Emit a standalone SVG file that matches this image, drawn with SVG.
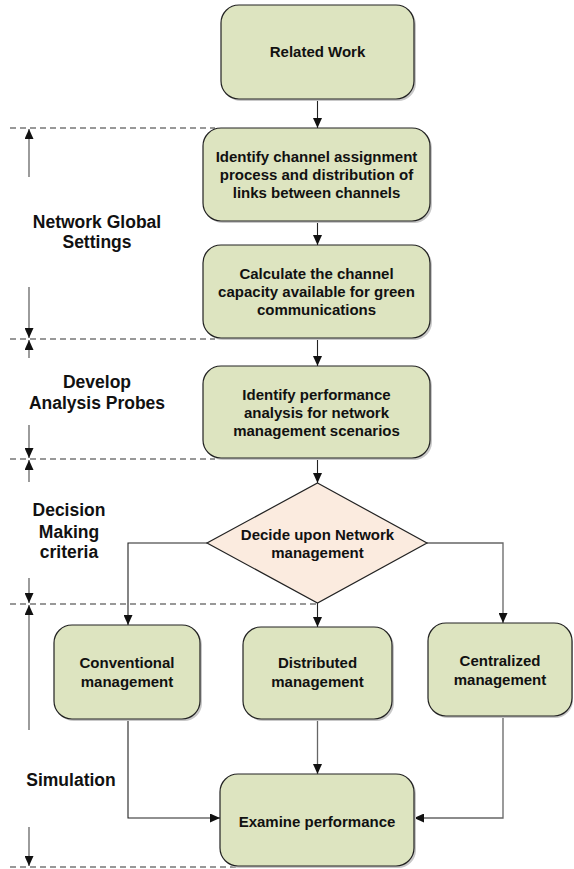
<svg xmlns="http://www.w3.org/2000/svg" width="574" height="869" viewBox="0 0 574 869">
<style>
.box{fill:#dde4c0;stroke:#222;stroke-width:1.2}
.shadow{fill:#c8c8c8}
.dia{fill:#fbebdf;stroke:#222;stroke-width:1.2}
.t{font-family:"Liberation Sans",Arial,sans-serif;font-weight:bold;font-size:15px;fill:#111;text-anchor:middle}
.lt{font-family:"Liberation Sans",Arial,sans-serif;font-weight:bold;font-size:17.5px;fill:#111;text-anchor:middle}
.c{fill:none;stroke:#222;stroke-width:1.1}
.g{fill:none;stroke:#666;stroke-width:1.3}
.d{fill:none;stroke:#777;stroke-width:1.3;stroke-dasharray:6 4}
</style>
<defs>
<marker id="ah" markerUnits="userSpaceOnUse" markerWidth="10" markerHeight="9" refX="10" refY="4.5" orient="auto">
<path d="M0,0 L10,4.5 L0,9 z" fill="#111"/>
</marker>
</defs>
<g id="dashes">
<path class="d" d="M10,128 H215"/>
<path class="d" d="M10,339 H215"/>
<path class="d" d="M10,459 H215"/>
<path class="d" d="M10,604 H317"/>
<path class="d" d="M10,867 H290"/>
</g>
<g id="phase-arrows">
<path class="g" d="M29,177 V129" marker-end="url(#ah)"/>
<path class="g" d="M29,287 V338" marker-end="url(#ah)"/>
<path class="g" d="M29,358 V340" marker-end="url(#ah)"/>
<path class="g" d="M29,425 V458" marker-end="url(#ah)"/>
<path class="g" d="M29,482 V460" marker-end="url(#ah)"/>
<path class="g" d="M29,578 V603" marker-end="url(#ah)"/>
<path class="g" d="M29,730 V605" marker-end="url(#ah)"/>
<path class="g" d="M29,827 V866" marker-end="url(#ah)"/>
</g>
<g id="labels">
<text class="lt" x="97" y="228">Network Global</text>
<text class="lt" x="97" y="248">Settings</text>
<text class="lt" x="97" y="388">Develop</text>
<text class="lt" x="97" y="409">Analysis Probes</text>
<text class="lt" x="69" y="516">Decision</text>
<text class="lt" x="69" y="538">Making</text>
<text class="lt" x="69" y="558">criteria</text>
<text class="lt" x="71" y="786">Simulation</text>
</g>
<g id="connectors">
<path class="c" d="M317.5,99 V128" marker-end="url(#ah)"/>
<path class="c" d="M317.5,221 V245" marker-end="url(#ah)"/>
<path class="c" d="M317.5,338 V366" marker-end="url(#ah)"/>
<path class="c" d="M317.5,458 V483" marker-end="url(#ah)"/>
<path class="c" d="M207,543 H128 V625" marker-end="url(#ah)"/>
<path class="c" d="M317.5,603 V627" marker-end="url(#ah)"/>
<path class="g" d="M427,543 H503 V623" marker-end="url(#ah)"/>
<path class="c" d="M128,719 V818 H220" marker-end="url(#ah)"/>
<path class="g" d="M317.5,719 V774" marker-end="url(#ah)"/>
<path class="g" d="M503,716 V818 H414" marker-end="url(#ah)"/>
</g>
<g id="related-work">
<rect class="shadow" x="223" y="7" width="193" height="94" rx="18"/>
<rect class="box" x="221" y="5" width="193" height="94" rx="18"/>
<text class="t" x="317.5" y="57">Related Work</text>
</g>
<g id="identify-channel">
<rect class="shadow" x="205" y="130" width="227" height="93" rx="18"/>
<rect class="box" x="203" y="128" width="227" height="93" rx="18"/>
<text class="t" x="316.5" y="162">Identify channel assignment</text>
<text class="t" x="316.5" y="180">process and distribution of</text>
<text class="t" x="316.5" y="198">links between channels</text>
</g>
<g id="calculate-capacity">
<rect class="shadow" x="205" y="247" width="227" height="93" rx="18"/>
<rect class="box" x="203" y="245" width="227" height="93" rx="18"/>
<text class="t" x="316.5" y="279">Calculate the channel</text>
<text class="t" x="316.5" y="297">capacity available for green</text>
<text class="t" x="316.5" y="315">communications</text>
</g>
<g id="identify-performance">
<rect class="shadow" x="205" y="368" width="227" height="92" rx="18"/>
<rect class="box" x="203" y="366" width="227" height="92" rx="18"/>
<text class="t" x="316.5" y="399.5">Identify performance</text>
<text class="t" x="316.5" y="417.5">analysis for network</text>
<text class="t" x="316.5" y="435.5">management scenarios</text>
</g>
<g id="decide">
<polygon class="dia" points="317.5,483 427,543 317.5,603 207,543"/>
<text class="t" x="317.5" y="540">Decide upon Network</text>
<text class="t" x="317.5" y="558">management</text>
</g>
<g id="conventional">
<rect class="shadow" x="56" y="627" width="146" height="94" rx="18"/>
<rect class="box" x="54" y="625" width="146" height="94" rx="18"/>
<text class="t" x="127" y="668">Conventional</text>
<text class="t" x="127" y="687">management</text>
</g>
<g id="distributed">
<rect class="shadow" x="245" y="629" width="149" height="92" rx="18"/>
<rect class="box" x="243" y="627" width="149" height="92" rx="18"/>
<text class="t" x="317.5" y="668">Distributed</text>
<text class="t" x="317.5" y="687">management</text>
</g>
<g id="centralized">
<rect class="shadow" x="430" y="625" width="143" height="93" rx="18"/>
<rect class="box" x="428" y="623" width="144" height="93" rx="18"/>
<text class="t" x="500" y="666">Centralized</text>
<text class="t" x="500" y="685">management</text>
</g>
<g id="examine">
<rect class="shadow" x="222" y="776" width="194" height="92" rx="18"/>
<rect class="box" x="220" y="774" width="194" height="92" rx="18"/>
<text class="t" x="317" y="827">Examine performance</text>
</g>
</svg>
